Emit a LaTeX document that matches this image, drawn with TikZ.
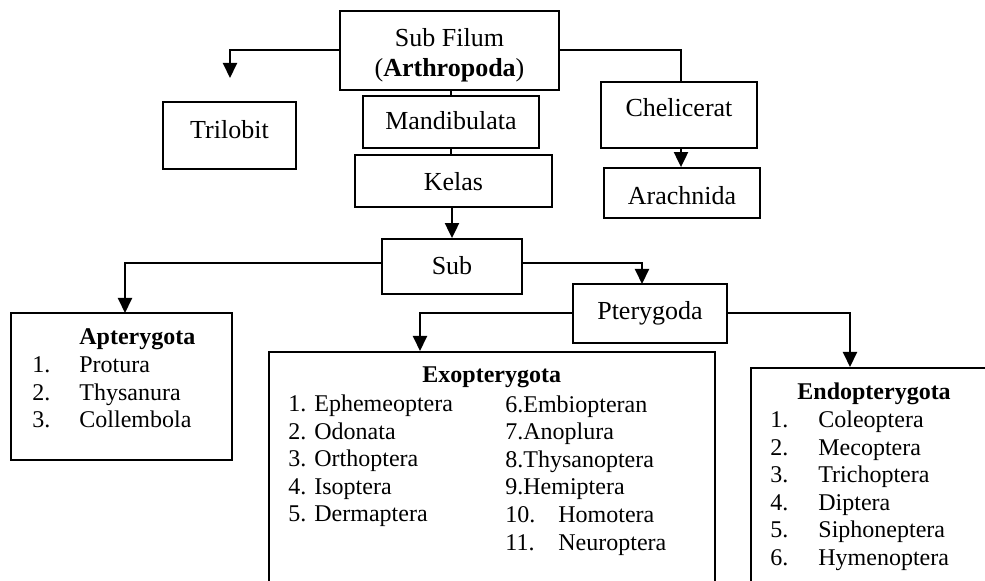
\documentclass[tikz,border=0pt]{standalone}
\usepackage{fontspec}
\setmainfont{Liberation Serif}
\usetikzlibrary{arrows.meta}
\begin{document}
\begin{tikzpicture}[x=0.5pt,y=-0.5pt,
  font=\fontsize{13}{15}\selectfont,
  box/.style={draw, line width=0.9pt, inner sep=0pt},
  conn/.style={line width=1pt},
  arr/.style={conn, -{Triangle[width=7pt,length=7.5pt]}},
  txt/.style={anchor=base, inner sep=0pt},
  ltxt/.style={anchor=base west, inner sep=0pt, font=\fontsize{12}{14}\selectfont}]
\useasboundingbox (0,0) rectangle (985,581);
\begin{scope}
\clip (0,0) rectangle (985,581);
% boxes
\node[box, minimum width=109.5pt, minimum height=39.5pt] (subfilum) at (449.5,50.5) {};
\node[box, minimum width=66.5pt, minimum height=33.5pt] (tril) at (229.5,135.5) {};
\node[box, minimum width=88pt, minimum height=26pt] (mand) at (451,122) {};
\node[box, minimum width=98.5pt, minimum height=26pt] (kelas) at (453.5,181) {};
\node[box, minimum width=78pt, minimum height=33pt] (chel) at (679,115) {};
\node[box, minimum width=78pt, minimum height=25pt] (arach) at (682,193) {};
\node[box, minimum width=70pt, minimum height=27.5pt] (sub) at (452,266.5) {};
\node[box, minimum width=77pt, minimum height=29.5pt] (pter) at (650,313.5) {};
\node[box, minimum width=110.5pt, minimum height=73.5pt] (apter) at (121.5,386.5) {};
\node[box, anchor=north west, minimum width=223pt, minimum height=160pt] (exo) at (268,351) {};
\node[box, anchor=north west, minimum width=150pt, minimum height=160pt] (endo) at (750,367) {};
% arrow targets
\coordinate (trilin) at (230,78);
\coordinate (apin) at (125,313);
\coordinate (ptin) at (642,284);
\coordinate (exoin) at (420,351);
\coordinate (endoin) at (850,367);
% connectors
\draw[arr] (subfilum.west) -| (trilin);
\draw[conn] (subfilum.east) -| ([xshift=1pt]chel.north);
\draw[conn] (mand.north |- subfilum.south) -- (mand.north);
\draw[conn] (mand.south) -- (mand.south |- kelas.north);
\draw[arr] (kelas.south -| sub.north) -- (sub.north);
\draw[arr] ([xshift=1pt]chel.south) -- ([xshift=1pt]chel.south |- arach.north);
\draw[arr] ([yshift=1.75pt]sub.west) -| (apin);
\draw[arr] ([yshift=1.75pt]sub.east) -| (ptin);
\draw[arr] (pter.west) -| (exoin);
\draw[arr] (pter.east) -| (endoin);
% box texts
\node[txt] (tsf1) at (449.5,47) {Sub Filum};
\node[txt] (tsf2) at (449.5,77) {(\textbf{Arthropoda})};
\node[txt] (ttri) at (229.5,139) {Trilobit};
\node[txt] (tmand) at (451,130) {Mandibulata};
\node[txt] (tkel) at (453.5,191) {Kelas};
\node[txt] (tchel) at (679,117) {Chelicerat};
\node[txt] (tarach) at (682,205) {Arachnida};
\node[txt] (tsub) at (452,275) {Sub};
\node[txt] (tpter) at (650,320) {Pterygoda};
% Apterygota
\node[ltxt] (aph) at (79,345) {\textbf{Apterygota}};
\foreach \n/\name/\y in {1/Protura/373, 2/Thysanura/400.5, 3/Collembola/428}{
  \node[ltxt] (apn\n) at (32,\y) {\n.};
  \node[ltxt] (apt\n) at (79,\y) {\name};
}
% Exopterygota
\node[ltxt] (exh) at (422,383) {\textbf{Exopterygota}};
\foreach \n/\name/\y in {1/Ephemeoptera/412, 2/Odonata/439.5, 3/Orthoptera/467, 4/Isoptera/494.5, 5/Dermaptera/522}{
  \node[ltxt] (exa\n) at (288,\y) {\n. \name};
}
\foreach \n/\name/\y in {6/Embiopteran/413, 7/Anoplura/440, 8/Thysanoptera/467.5, 9/Hemiptera/495}{
  \node[ltxt] (exb\n) at (505,\y) {\n.\name};
}
\foreach \n/\name/\y in {10/Homotera/523, 11/Neuroptera/551}{
  \node[ltxt] (exn\n) at (505,\y) {\n.};
  \node[ltxt] (ext\n) at (558,\y) {\name};
}
% Endopterygota
\node[ltxt] (enh) at (797,400) {\textbf{Endopterygota}};
\foreach \n/\name/\y in {1/Coleoptera/428, 2/Mecoptera/455.5, 3/Trichoptera/483, 4/Diptera/510.5, 5/Siphoneptera/538, 6/Hymenoptera/566}{
  \node[ltxt] (enn\n) at (770,\y) {\n.};
  \node[ltxt] (ent\n) at (818,\y) {\name};
}
\end{scope}
\end{tikzpicture}
\end{document}
